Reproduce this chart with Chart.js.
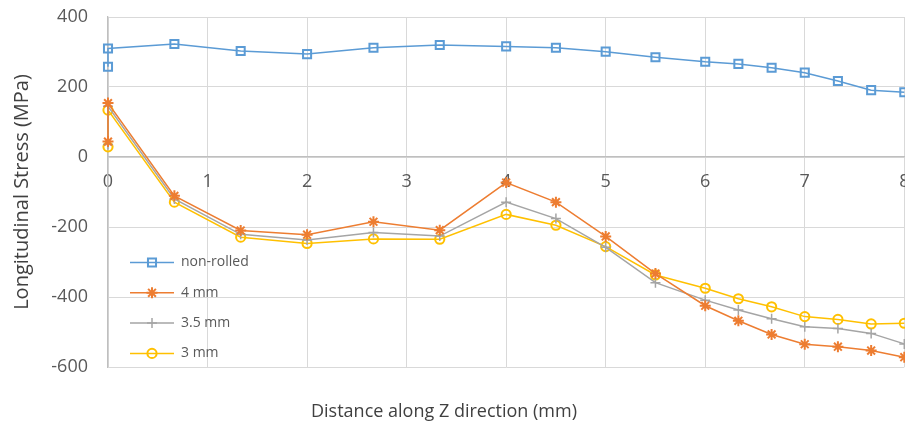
<!DOCTYPE html>
<html>
<head>
<meta charset="utf-8">
<title>Longitudinal stress along Z</title>
<script src="https://cdn.jsdelivr.net/npm/chart.js"></script>
<style>
  html, body { margin: 0; padding: 0; background: #fff; overflow: hidden; width: 905px; height: 425px; }
  #wrap { position: relative; width: 912px; height: 425px; }
</style>
</head>
<body>
<div id="wrap"><canvas id="stressChart"></canvas></div>
<script>
// Measurement positions along Z (mm); the first two readings are both taken at z = 0
const zPositions = [0, 0, 0.667, 1.333, 2, 2.667, 3.333, 4, 4.5, 5, 5.5, 6, 6.333, 6.667, 7, 7.333, 7.667, 8];

// Longitudinal stress (MPa) for each specimen
const nonRolled = [258, 310, 323, 303, 294, 312, 320, 316, 312, 301, 285, 272, 266, 255, 241, 217, 191, 185];
const rolled4mm = [44, 154, -111, -210, -222, -185, -209, -73, -129, -227, -333, -425, -468, -507, -535, -542, -553, -572];
const rolled35mm = [36, 145, -120, -221, -237, -216, -226, -129, -176, -258, -359, -409, -437, -462, -485, -490, -504, -534];
const rolled3mm = [29, 134, -129, -229, -247, -234, -235, -164, -195, -256, -337, -375, -405, -428, -456, -464, -477, -475];

const seriesNames = ['non-rolled', '4 mm', '3.5 mm', '3 mm'];
const stressTicks = [400, 200, 0, -200, -400, -600];
const distanceTicks = [0, 1, 2, 3, 4, 5, 6, 7, 8];

const FONT = "'Open Sans', 'Noto Sans', 'DejaVu Sans', sans-serif";

function toPoints(values) {
  return values.map((v, i) => ({ x: zPositions[i], y: v }));
}

function seriesStyle(color, style, radius, pointWidth) {
  return {
    borderColor: color,
    backgroundColor: color,
    borderWidth: 1.5,
    pointStyle: style,
    pointRadius: radius,
    pointHoverRadius: radius,
    pointBorderColor: color,
    pointBackgroundColor: 'rgba(0,0,0,0)',
    pointBorderWidth: pointWidth,
    tension: 0,
    clip: false
  };
}

// Legend drawn inside the plot area, lower left, as line + marker + label
const insideLegend = {
  id: 'insideLegend',
  afterDatasetsDraw(chart, args, opts) {
    const { ctx, chartArea } = chart;
    ctx.save();
    chart.data.datasets.forEach((ds, i) => {
      const y = chartArea.bottom + opts.firstRow + i * opts.rowGap;
      const x0 = chartArea.left + opts.inset;
      ctx.strokeStyle = ds.borderColor;
      ctx.lineWidth = ds.borderWidth;
      ctx.beginPath();
      ctx.moveTo(x0, y);
      ctx.lineTo(x0 + opts.lineLength, y);
      ctx.stroke();
      ctx.strokeStyle = ds.pointBorderColor;
      ctx.fillStyle = 'rgba(0,0,0,0)';
      ctx.lineWidth = ds.pointBorderWidth;
      Chart.helpers.drawPoint(ctx, {
        pointStyle: ds.pointStyle,
        radius: ds.pointRadius,
        rotation: 0,
        borderWidth: ds.pointBorderWidth
      }, x0 + opts.lineLength / 2, y);
      ctx.fillStyle = opts.color;
      ctx.font = opts.fontSize + 'px ' + FONT;
      ctx.textBaseline = 'middle';
      ctx.textAlign = 'left';
      ctx.fillText(ds.label, x0 + opts.lineLength + opts.gap, y);
    });
    ctx.restore();
  }
};

// Caption under the plot for the horizontal axis
const bottomCaption = {
  id: 'bottomCaption',
  afterDraw(chart, args, opts) {
    const { ctx } = chart;
    ctx.save();
    ctx.fillStyle = opts.color;
    ctx.font = opts.fontSize + 'px ' + FONT;
    ctx.textAlign = 'center';
    ctx.textBaseline = 'middle';
    ctx.fillText(opts.text, opts.x, opts.y);
    ctx.restore();
  }
};

new Chart(document.getElementById('stressChart'), {
  type: 'line',
  data: {
    datasets: [
      Object.assign({ label: seriesNames[0], data: toPoints(nonRolled) }, seriesStyle('#5B9BD5', 'rect', 5.7, 2)),
      Object.assign({ label: seriesNames[1], data: toPoints(rolled4mm) }, seriesStyle('#ED7D31', 'star', 5.5, 2)),
      Object.assign({ label: seriesNames[2], data: toPoints(rolled35mm) }, seriesStyle('#A5A5A5', 'cross', 5, 1.5)),
      Object.assign({ label: seriesNames[3], data: toPoints(rolled3mm) }, seriesStyle('#FFC000', 'circle', 4.6, 2))
    ]
  },
  options: {
    responsive: true,
    maintainAspectRatio: false,
    animation: false,
    devicePixelRatio: 1,
    layout: { padding: { left: 0, top: 17, right: 5, bottom: 58 } },
    scales: {
      x: {
        type: 'linear',
        position: { y: 0 },
        min: 0,
        max: 8,
        afterBuildTicks(scale) { scale.ticks = distanceTicks.map(v => ({ value: v })); },
        afterFit(scale) { scale.paddingLeft = 0; scale.paddingRight = 0; },
        grid: { color: '#D9D9D9', lineWidth: 1, drawTicks: false },
        border: { color: '#BFBFBF', width: 1.3 },
        ticks: { padding: 14, color: '#595959', font: { family: FONT, size: 18 } }
      },
      y: {
        type: 'linear',
        position: 'left',
        min: -600,
        max: 400,
        afterBuildTicks(scale) { scale.ticks = stressTicks.map(v => ({ value: v })); },
        afterFit(scale) { scale.width = 108; scale.paddingTop = 0; scale.paddingBottom = 0; },
        grid: { color: '#D9D9D9', lineWidth: 1, drawTicks: false },
        border: { color: '#BFBFBF', width: 1.3 },
        ticks: { padding: 20, color: '#595959', font: { family: FONT, size: 18 } },
        title: {
          display: true,
          text: 'Longitudinal Stress (MPa)',
          color: '#404040',
          font: { family: FONT, size: 20 },
          padding: { top: 10, bottom: 0 }
        }
      }
    },
    plugins: {
      legend: { display: false },
      tooltip: { enabled: false },
      insideLegend: { firstRow: -104.5, rowGap: 30.3, inset: 22, lineLength: 44, gap: 7, fontSize: 14, color: '#595959' },
      bottomCaption: { text: 'Distance along Z direction (mm)', x: 444, y: 412, fontSize: 18, color: '#404040' }
    }
  },
  plugins: [insideLegend, bottomCaption]
});
</script>
</body>
</html>
